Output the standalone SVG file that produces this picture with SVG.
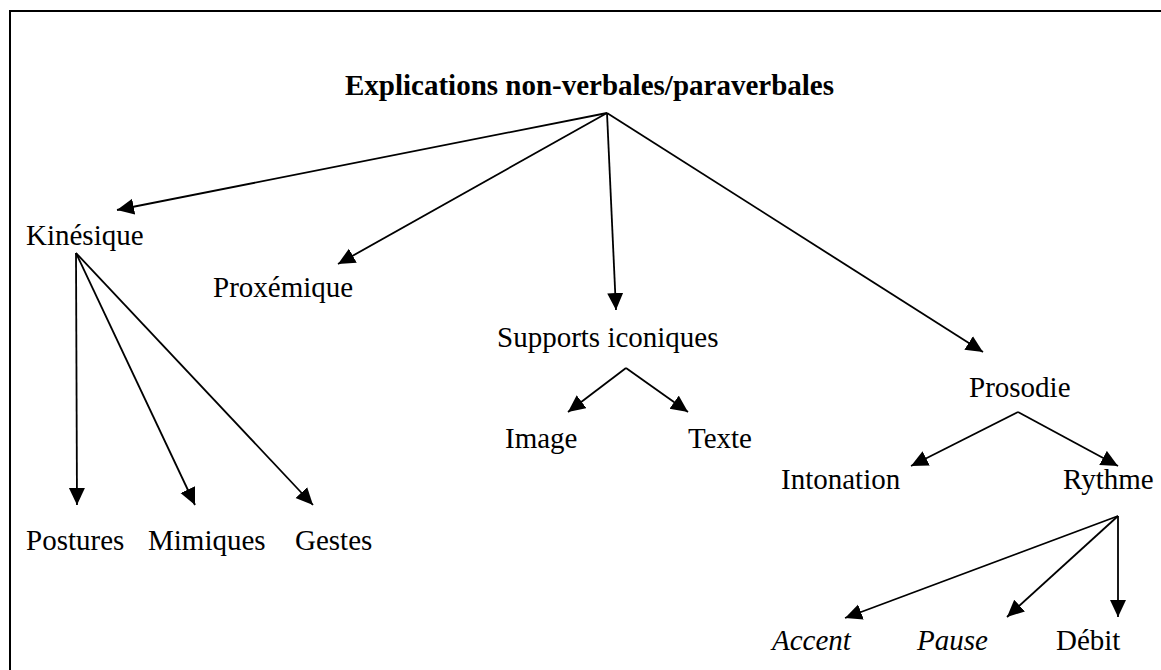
<svg xmlns="http://www.w3.org/2000/svg" width="1161" height="670" viewBox="0 0 1161 670">
  <style>
    .lbl { font-family: "Liberation Serif", "Times New Roman", serif; font-size: 29px; fill: #000; }
    .root { font-weight: bold; }
    .it { font-style: italic; }
    .edge { stroke: #000; stroke-width: 1.8; fill: none; marker-end: url(#tip); }
  </style>
  <defs>
    <!-- filled triangular arrowhead, tip at the line end -->
    <marker id="tip" markerUnits="userSpaceOnUse" markerWidth="19" markerHeight="17" refX="17" refY="8" orient="auto">
      <path d="M0,0 L17,8 L0,16 z" fill="#000"/>
    </marker>
  </defs>

  <rect x="10" y="11" width="1162" height="672" fill="#fff" stroke="#000" stroke-width="2"/>

  <g id="connectors">
    <line class="edge" x1="607" y1="113" x2="117" y2="210"/>
    <line class="edge" x1="607" y1="113" x2="338" y2="264"/>
    <line class="edge" x1="607" y1="113" x2="616" y2="310"/>
    <line class="edge" x1="607" y1="113" x2="983" y2="352"/>
    <line class="edge" x1="76" y1="253" x2="77" y2="505"/>
    <line class="edge" x1="76" y1="253" x2="195" y2="505"/>
    <line class="edge" x1="76" y1="253" x2="313" y2="505"/>
    <line class="edge" x1="626" y1="368" x2="568" y2="412"/>
    <line class="edge" x1="626" y1="368" x2="688" y2="412"/>
    <line class="edge" x1="1018" y1="412" x2="911" y2="466"/>
    <line class="edge" x1="1018" y1="412" x2="1118" y2="466"/>
    <line class="edge" x1="1118" y1="516" x2="845" y2="618"/>
    <line class="edge" x1="1118" y1="516" x2="1007" y2="617"/>
    <line class="edge" x1="1118" y1="516" x2="1118" y2="617"/>
  </g>

  <g id="n-root"><text class="lbl root" x="345" y="95">Explications non-verbales/paraverbales</text></g>
  <g id="n-kinesique"><text class="lbl" x="26" y="245">Kinésique</text></g>
  <g id="n-proxemique"><text class="lbl" x="213" y="297">Proxémique</text></g>
  <g id="n-supports"><text class="lbl" x="497" y="347">Supports iconiques</text></g>
  <g id="n-prosodie"><text class="lbl" x="969" y="397">Prosodie</text></g>
  <g id="n-image"><text class="lbl" x="505" y="448">Image</text></g>
  <g id="n-texte"><text class="lbl" x="688" y="448">Texte</text></g>
  <g id="n-intonation"><text class="lbl" x="781" y="489">Intonation</text></g>
  <g id="n-rythme"><text class="lbl" x="1063" y="489">Rythme</text></g>
  <g id="n-postures"><text class="lbl" x="26" y="550">Postures</text></g>
  <g id="n-mimiques"><text class="lbl" x="148" y="550">Mimiques</text></g>
  <g id="n-gestes"><text class="lbl" x="295" y="550">Gestes</text></g>
  <g id="n-accent"><text class="lbl it" x="772" y="650">Accent</text></g>
  <g id="n-pause"><text class="lbl it" x="917" y="650">Pause</text></g>
  <g id="n-debit"><text class="lbl" x="1056" y="650">Débit</text></g>
</svg>
